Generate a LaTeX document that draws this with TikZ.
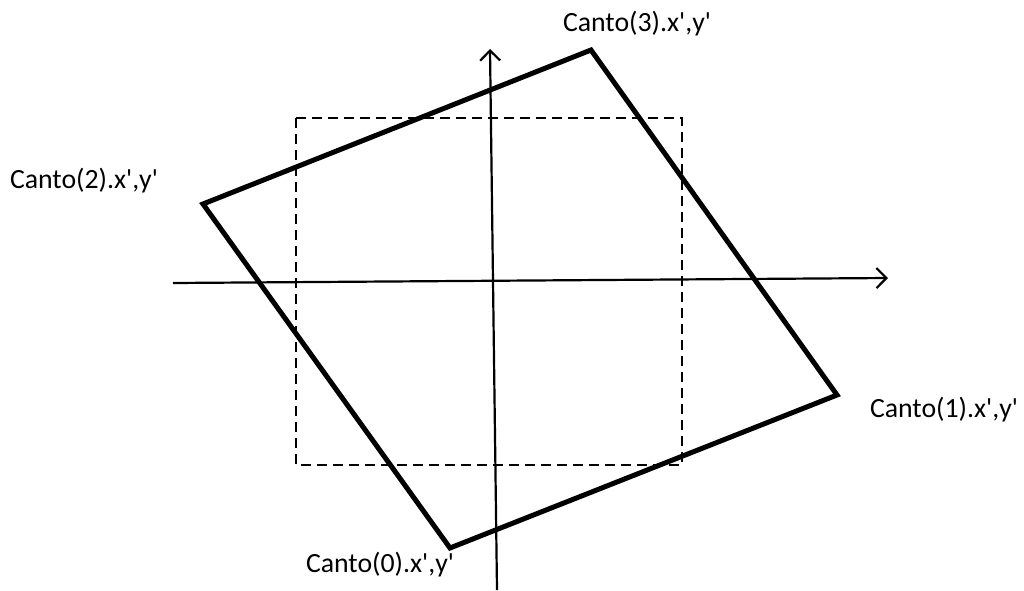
\documentclass[tikz,border=0pt]{standalone}
\usepackage{fontspec}
\newfontfamily\cantofont{Carlito}
\usetikzlibrary{arrows.meta,positioning}

\begin{document}
\begin{tikzpicture}[x=0.5pt,y=-0.5pt,>={Straight Barb[length=5pt,width=10pt]},sq/.style={line width=2.5pt,line join=miter},ax/.style={->,line width=1.1pt},box/.style={line width=1.3pt,dash pattern=on 5pt off 3pt},lab/.style={inner sep=0pt,font=\cantofont\fontsize{13.9}{16}\selectfont}]
\useasboundingbox (0,0) rectangle (1024,590);
\coordinate (c0) at (450,548); \coordinate (c1) at (837,395); \coordinate (c2) at (203,204); \coordinate (c3) at (591,50);
\coordinate (xl) at (173,283); \coordinate (xr) at (888,278); \coordinate (yb) at (497,590); \coordinate (yt) at (490,49);
\draw[box] (296,118) rectangle (682,465);
\draw[ax] (xl) -- (xr);
\draw[ax] (yb) -- (yt);
\draw[sq] (c0) -- (c1) -- (c3) -- (c2) -- cycle;
\node[lab] (l0) at (380,565) {Canto(0).x',y'};
\node[lab] (l1) at (944,410) {Canto(1).x',y'};
\node[lab] (l2) at (84,181) {Canto(2).x',y'};
\node[lab] (l3) at (637,24) {Canto(3).x',y'};
\end{tikzpicture}
\end{document}
